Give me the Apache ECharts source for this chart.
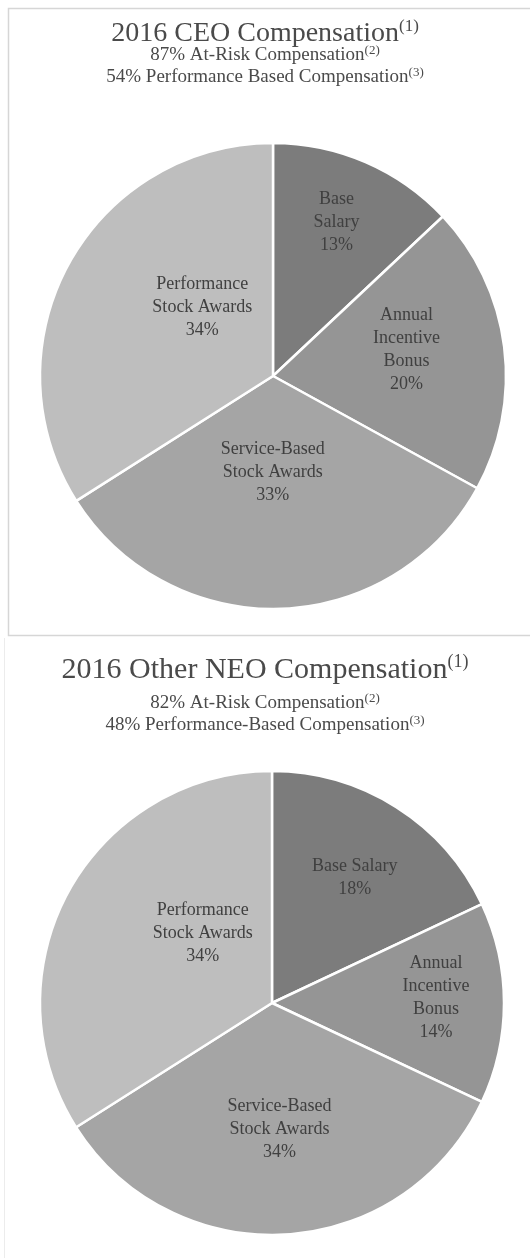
<!DOCTYPE html>
<html>
<head>
<meta charset="utf-8">
<script src="https://cdn.jsdelivr.net/npm/echarts@6/dist/echarts.min.js"></script>
<style>
html,body{margin:0;padding:0;background:#fff;}
#c{width:530px;height:1258px;}
</style>
</head>
<body>
<div id="c"></div>
<script>
// ---- data ----
var ceoCategories = ['Base\nSalary', 'Annual\nIncentive\nBonus', 'Service-Based\nStock Awards', 'Performance\nStock Awards'];
var ceoValues = [13, 20, 33, 34];
var neoCategories = ['Base Salary', 'Annual\nIncentive\nBonus', 'Service-Based\nStock Awards', 'Performance\nStock Awards'];
var neoValues = [18, 14, 34, 34];
var ceoTitle = '2016 CEO Compensation';
var ceoSub1 = '87% At-Risk Compensation';
var ceoSub2 = '54% Performance Based Compensation';
var neoTitle = '2016 Other NEO Compensation';
var neoSub1 = '82% At-Risk Compensation';
var neoSub2 = '48% Performance-Based Compensation';

// ---- styling / layout ----
var sliceColors = ['#7c7c7c', '#959595', '#a5a5a5', '#bebebe'];
var ceoLabelShift = [[16, -44], [15, -11], [-4, -23], [34, -11]];
var neoLabelShift = [[19, -25], [45, -5], [0, 8], [35, -12]];
var serif = 'Liberation Serif';
var txtColor = '#4a4a4a';

function mkData(cats, vals) {
  return cats.map(function (c, i) {
    return { name: c, value: vals[i], itemStyle: { color: sliceColors[i] } };
  });
}
function supRich(size, lh) {
  return { s: { fontFamily: serif, fontSize: size, color: txtColor, verticalAlign: 'top', lineHeight: lh } };
}
function titleItem(text, sup, top, size, lh, supSize) {
  return {
    text: text + '{s|' + sup + '}',
    left: 'center',
    top: top,
    padding: 0,
    textStyle: {
      fontFamily: serif, fontWeight: 'normal', fontSize: size, color: txtColor, lineHeight: lh,
      rich: supRich(supSize, lh)
    }
  };
}
function pieSeries(center, radius, data, shifts) {
  return {
    type: 'pie',
    center: center,
    radius: radius,
    startAngle: 90,
    clockwise: true,
    silent: true,
    data: data,
    itemStyle: { borderColor: '#ffffff', borderWidth: 2.5 },
    label: {
      show: true,
      position: 'inside',
      formatter: '{b}\n{c}%',
      fontFamily: serif,
      fontSize: 18,
      lineHeight: 23,
      color: '#404040',
      align: 'center'
    },
    labelLine: { show: false },
    labelLayout: function (p) {
      var s = shifts[p.dataIndex];
      return { dx: s[0], dy: s[1] };
    }
  };
}

var chart = echarts.init(document.getElementById('c'), null, { renderer: 'canvas' });
chart.setOption({
  animation: false,
  backgroundColor: '#ffffff',
  title: [
    titleItem(ceoTitle, '(1)', 18, 28, 31, 17),
    titleItem(ceoSub1, '(2)', 44, 19, 22, 13),
    titleItem(ceoSub2, '(3)', 66, 19, 22, 13),
    titleItem(neoTitle, '(1)', 653, 30, 34, 18),
    titleItem(neoSub1, '(2)', 692, 19, 22, 13),
    titleItem(neoSub2, '(3)', 714, 19, 22, 13)
  ],
  graphic: [
    { type: 'rect', shape: { x: 8.5, y: 8.5, width: 540, height: 627 }, style: { fill: 'none', stroke: '#d6d6d6', lineWidth: 1.5 }, silent: true },
    { type: 'line', shape: { x1: 4.5, y1: 638, x2: 4.5, y2: 1258 }, style: { stroke: '#ececec', lineWidth: 1 }, silent: true }
  ],
  series: [
    pieSeries([273, 376], 233, mkData(ceoCategories, ceoValues), ceoLabelShift),
    pieSeries([272, 1003], 232, mkData(neoCategories, neoValues), neoLabelShift)
  ]
});
</script>
</body>
</html>
